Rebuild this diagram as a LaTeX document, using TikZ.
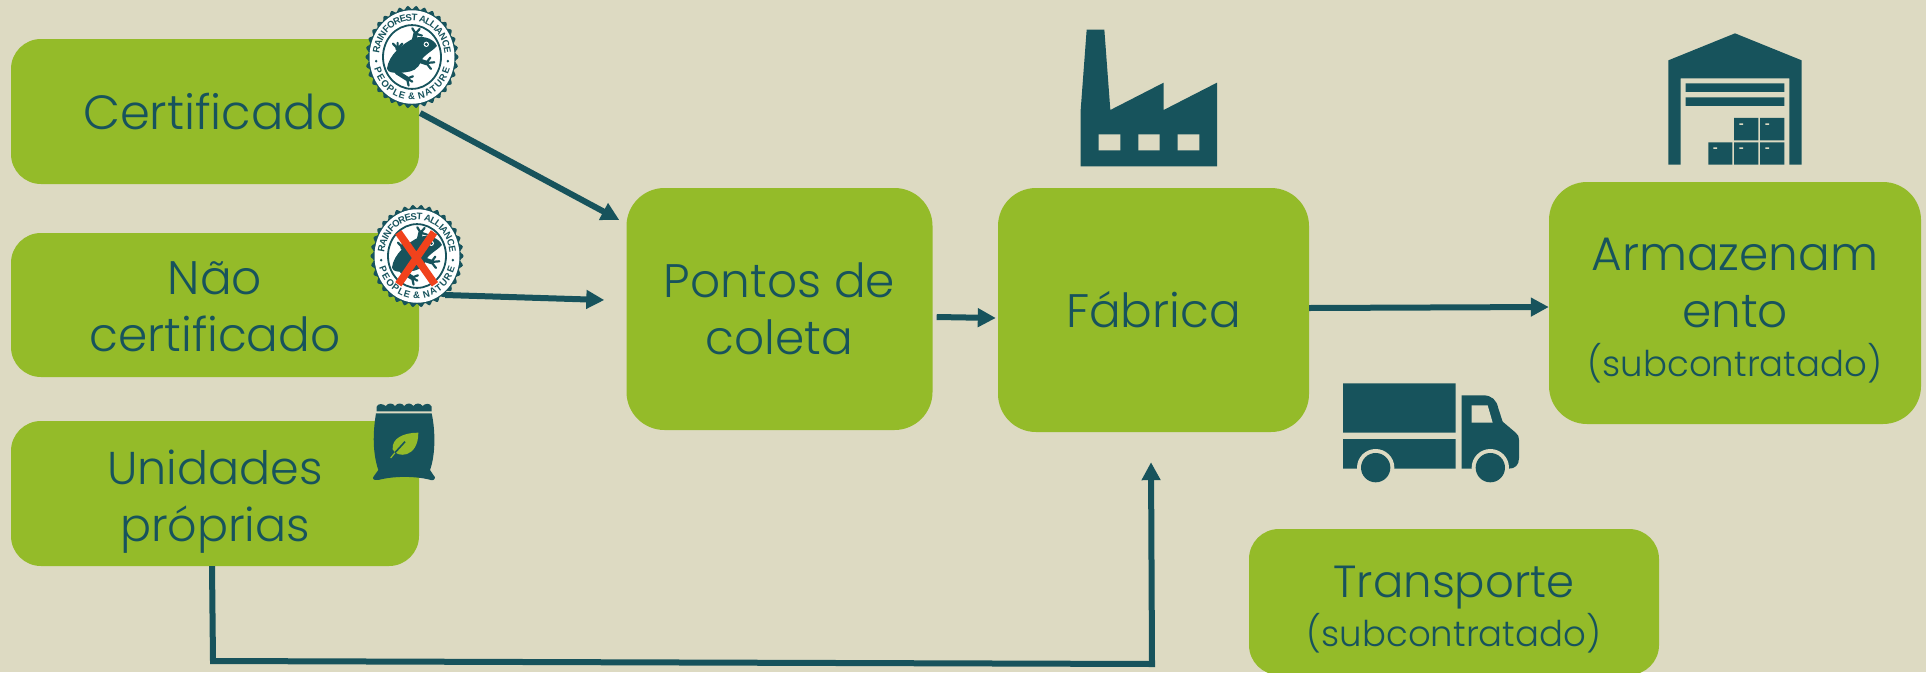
\documentclass[tikz,border=0pt]{standalone}
\usepackage{fontspec}
\setmainfont{Poppins Light}
\newfontfamily\badgefont{Liberation Sans}
\definecolor{bgc}{HTML}{DDDAC2}
\definecolor{leaf}{HTML}{94BB29}
\definecolor{teal}{HTML}{17535C}
\definecolor{redx}{HTML}{F0421C}
\usetikzlibrary{arrows.meta}
\newcommand{\subtxt}[1]{{\fontsize{35.5}{44}\selectfont #1}}
\tikzset{
  stagebox/.style={fill=leaf,text=teal,rounded corners=30pt,align=center,inner sep=0pt,font=\fontsize{47}{57}\selectfont,minimum width=#1},
  stagebox/.default=408pt,
  link/.style={draw=teal,line width=6pt,-{Triangle[length=18pt,width=18pt]}},
  zoomed/.style={x=.3333pt,y=-.3333pt},
  frogleg/.style={draw=teal,line width=4.5pt,line cap=round,line join=round},
  toe/.style={draw=teal,line width=2.2pt,line cap=round},
  ringletter/.style={text=teal,inner sep=0pt,font=\badgefont\bfseries\fontsize{9.5}{9.5}\selectfont},
  pics/badge/.style={code={
    \fill[teal] plot[domain=0:360,samples=205] ({(45+1.6*cos(34*\x))*cos(\x)},{(45+1.6*cos(34*\x))*sin(\x)}) -- cycle;
    \fill[white] (0,0) circle[radius=42.5];
    \draw[teal,line width=1.8pt] (0,0) circle[radius=29];
    \foreach \c/\w in {R/361,A/1083,I/1583,N/2083,F/2750,O/3444,R/4194,E/4889,S/5555,T/6195,A/7139,L/7805,L/8416,I/8861,A/9361,N/10083,C/10805,E/11500}
      \node[ringletter,rotate={85-\w*0.01437}] at ({175-\w*0.01437}:36) {\c};
    \foreach \c/\w in {P/333,E/1000,O/1723,P/2445,L/3084,E/3723,{\&}/4696,N/5696,A/6418,T/7084,U/7751,R/8473,E/9167}
      \node[ringletter,rotate={285+\w*0.01579}] at ({195+\w*0.01579}:36) {\c};
    \fill[teal] (186:36) circle[radius=1.3] (-6:36) circle[radius=1.3];
    \begin{scope}[shift={(-71.7pt,56.7pt)},zoomed]
      \fill[teal] (140,205) .. controls (145,165) and (185,130) .. (225,112)
        .. controls (255,105) and (282,118) .. (290,137)
        .. controls (278,152) and (252,162) .. (242,182)
        .. controls (234,208) and (215,214) .. (195,216)
        .. controls (170,220) and (140,218) .. (140,205) -- cycle;
      \draw[frogleg] (220,125) -- (226,100);
      \draw[toe] (226,100) -- (216,84) (226,100) -- (238,86) (226,100) -- (245,106);
      \draw[frogleg] (195,150) -- (172,145);
      \draw[toe] (172,145) -- (158,130) (172,145) -- (172,128) (172,145) -- (186,130);
      \draw[frogleg] (240,182) -- (258,188);
      \draw[toe] (258,188) -- (270,172) (258,188) -- (282,186) (258,188) -- (272,206);
      \draw[frogleg] (170,216) -- (200,235);
      \draw[toe] (200,235) -- (218,228) (200,235) -- (216,244) (200,235) -- (205,256);
      \fill[white] (258,132) circle[radius=8];
      \fill[teal] (258,132) circle[radius=5];
    \end{scope}
  }}
}
\begin{document}
\begin{tikzpicture}[x=1pt,y=-1pt]
\useasboundingbox (0,0) rectangle (1926,672);
\fill[bgc] (0,0) rectangle (1926,672);

\node[stagebox,minimum height=145pt,font=\fontsize{48}{57}\selectfont] (cert) at (215,111.5) {Certificado};
\node[stagebox,minimum height=144pt] (nao) at (215,305) {\rule{0pt}{36pt}Não\\certificado};
\node[stagebox,minimum height=145pt,font=\fontsize{46}{57}\selectfont] (unid) at (215,493.5) {\rule{0pt}{50pt}Unidades\\próprias};
\node[stagebox=306pt,rounded corners=38pt,minimum height=242pt] (pontos) at (779.5,309) {Pontos de\\coleta};
\node[stagebox=311pt,rounded corners=38pt,minimum height=244pt] (fab) at (1153.5,310) {Fábrica};
\node[stagebox=372pt,rounded corners=38pt,minimum height=242pt] (armaz) at (1735,303) {\rule{0pt}{48pt}Armazenam\\ento\\[-8pt]\subtxt{(subcontratado)}};
\node[stagebox=410pt,minimum height=146pt,font=\fontsize{45}{57}\selectfont] (transp) at (1454,602) {\rule{0pt}{46pt}Transporte\\[-8pt]\subtxt{(subcontratado)}};

% connectors
\draw[link] ([shift={(1pt,-1.5pt)}]cert.east) -- ([shift={(-7pt,89pt)}]pontos.west);
\draw[link] ([shift={(26pt,10pt)}]nao.east) -- ([shift={(-22pt,9pt)}]pontos.west);
\draw[link] ([shift={(4pt,-8pt)}]pontos.east) -- ([shift={(-2pt,-8pt)}]fab.west);
\draw[link] ([yshift=2pt]fab.east) -- ([yshift=-4pt]armaz.west);
\coordinate (bendA) at (213,661);
\coordinate (bendB) at (1152,664);
\draw[link] ([xshift=-3pt]unid.south) -- (bendA) -- (bendB) -- ([shift={(-2.5pt,-30pt)}]fab.south);

% badges
\begin{scope}[shift={(412,57)},x=1pt,y=1.1pt]
  \pic {badge};
\end{scope}
\begin{scope}[shift={(417,256)},x=1pt,y=1.1pt]
  \pic {badge};
\end{scope}
\begin{scope}[shift={(350,195)},zoomed]
  \draw[redx,line width=7.5pt] (145,112) -- (255,268) (252,112) -- (145,268);
\end{scope}

% bag
\begin{scope}[shift={(350,390)},zoomed]
  \fill[teal] (80,64) -- (80,50) .. controls (85,38) and (100,42) .. (107,48)
    .. controls (115,38) and (128,38) .. (135,48) .. controls (143,38) and (155,38) .. (163,48)
    .. controls (170,38) and (183,38) .. (190,48) .. controls (198,38) and (210,38) .. (218,48)
    .. controls (225,40) and (240,38) .. (245,50) -- (245,64) -- cycle;
  \fill[teal] (78,70) -- (245,70) .. controls (258,130) and (255,200) .. (240,240)
    -- (255,262) .. controls (255,272) and (245,272) .. (235,268)
    .. controls (190,258) and (130,258) .. (85,270)
    .. controls (70,272) and (65,265) .. (72,258) -- (85,240)
    .. controls (68,190) and (68,130) .. (78,70) -- cycle;
  \fill[leaf] (205,128) .. controls (160,128) and (125,145) .. (128,178)
    .. controls (140,205) and (205,205) .. (205,128) -- cycle;
  \draw[leaf,line width=1.2pt] (135,188) -- (122,204);
  \draw[teal,line width=1.6pt] (165,155) -- (135,188);
\end{scope}

% factory
\begin{scope}[shift={(1060,15)},zoomed]
  \fill[teal] (80,44) -- (133,44) -- (151,285) -- (311,203) -- (311,285) -- (471,203) -- (471,454) -- (62,454) -- (62,285) -- cycle;
  \fill[bgc] (116,358) rectangle (181,406) (235,358) rectangle (299,406) (353,358) rectangle (418,406);
\end{scope}

% warehouse
\begin{scope}[shift={(1650,20)},zoomed]
  \fill[teal] (255,40) -- (455,121) -- (455,434) -- (418,434) -- (418,175) -- (92,175) -- (92,434) -- (55,434) -- (55,121) -- cycle;
  \fill[teal] (107,190) rectangle (403,216) (107,232) rectangle (403,258);
  \fill[teal] (252,294) rectangle (325,361) (330,294) rectangle (403,361)
    (175,367) rectangle (247,434) (252,367) rectangle (325,434) (330,367) rectangle (403,434);
  \fill[bgc] (268,310) rectangle (279,315) (346,310) rectangle (357,315)
    (190,382) rectangle (201,387) (268,382) rectangle (279,387) (346,382) rectangle (357,387);
\end{scope}

% truck
\begin{scope}[shift={(1325,370)},zoomed]
  \fill[teal] (54,40) rectangle (392,188) (54,207) rectangle (392,296);
  \fill[teal] (410,76) -- (475,76) .. controls (500,76) and (515,90) .. (520,115)
    -- (533,155) -- (572,188) .. controls (580,195) and (582,200) .. (582,210)
    -- (582,265) .. controls (582,285) and (570,296) .. (552,296) -- (410,296) -- cycle;
  \fill[bgc] (440,106) -- (488,106) .. controls (492,120) and (498,140) .. (503,158) -- (440,158) -- cycle;
  \fill[bgc] (152,293) circle[radius=56] (496,293) circle[radius=56];
  \fill[teal] (152,293) circle[radius=44] (496,293) circle[radius=44];
\end{scope}
\end{tikzpicture}
\end{document}
